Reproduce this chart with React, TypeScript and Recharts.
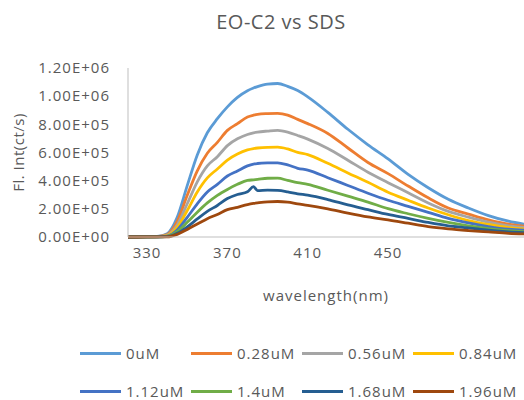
import { Legend, Line, LineChart, XAxis, YAxis } from "recharts";

// emission spectra, wavelength in nm, intensity in ct/s
const wavelengths = [
  320, 330, 335, 340, 345, 350, 355, 360, 365, 370, 375, 380, 383, 385, 390, 395,
  400, 405, 410, 420, 430, 440, 450, 460, 470, 480, 490, 500, 510, 518,
];

const sds0 = [
  0, 1000, 4000, 24000, 140000, 365000, 583000, 740000, 840000, 924000, 991000,
  1039000, 1058000, 1068000, 1086000, 1090000, 1070000, 1040000, 995000, 885000,
  765000, 655000, 555000, 445000, 350000, 268000, 206000, 152000, 112000, 90000,
];
const sds028 = [
  0, 1000, 3000, 18000, 110000, 296000, 470000, 595000, 672000, 757000, 805000,
  852000, 865000, 871000, 876000, 878000, 866000, 835000, 805000, 735000, 632000,
  529000, 450000, 362000, 278000, 206000, 163000, 122000, 91000, 77000,
];
const sds056 = [
  0, 1000, 2000, 14000, 86000, 236000, 392000, 505000, 570000, 649000, 697000,
  728000, 740000, 745000, 752000, 757000, 745000, 721000, 695000, 628000, 545000,
  460000, 386000, 314000, 242000, 182000, 141000, 105000, 79000, 67000,
];
const sds084 = [
  0, 500, 1500, 10000, 68000, 188000, 320000, 420000, 483000, 546000, 589000,
  618000, 628000, 632000, 637000, 638000, 625000, 601000, 585000, 523000, 455000,
  388000, 318000, 261000, 206000, 158000, 117000, 89000, 67000, 57000,
];
const sds112 = [
  0, 500, 1000, 7000, 50000, 140000, 236000, 320000, 374000, 433000, 469000,
  505000, 518000, 522000, 526000, 527000, 512000, 488000, 475000, 421000, 366000,
  311000, 261000, 218000, 175000, 132000, 100000, 74000, 55000, 48000,
];
const sds14 = [
  0, 500, 1000, 5000, 38000, 104000, 176000, 242000, 296000, 338000, 374000,
  402000, 406000, 409000, 417000, 418000, 402000, 386000, 374000, 332000, 290000,
  248000, 201000, 165000, 132000, 103000, 79000, 60000, 45000, 38000,
];
const sds168 = [
  0, 300, 800, 2000, 26000, 72000, 128000, 182000, 224000, 273000, 302000,
  321000, 357000, 330000, 333000, 331000, 321000, 307000, 297000, 266000, 228000,
  194000, 160000, 132000, 103000, 79000, 65000, 48000, 36000, 31000,
];
const sds196 = [
  0, 300, 600, 1000, 19000, 54000, 92000, 130000, 160000, 194000, 211000,
  230000, 238000, 242000, 250000, 252000, 247000, 235000, 225000, 200000, 170000,
  143000, 122000, 98000, 74000, 58000, 46000, 36000, 26000, 22000,
];

const xTicks = [330, 370, 410, 450];
const yTicks = [0, 200000, 400000, 600000, 800000, 1000000, 1200000];

const series = [
  { key: "c0", name: "0uM", color: "#5B9BD5", values: sds0 },
  { key: "c028", name: "0.28uM", color: "#ED7D31", values: sds028 },
  { key: "c056", name: "0.56uM", color: "#A5A5A5", values: sds056 },
  { key: "c084", name: "0.84uM", color: "#FFC000", values: sds084 },
  { key: "c112", name: "1.12uM", color: "#4472C4", values: sds112 },
  { key: "c14", name: "1.4uM", color: "#70AD47", values: sds14 },
  { key: "c168", name: "1.68uM", color: "#255E91", values: sds168 },
  { key: "c196", name: "1.96uM", color: "#9E480E", values: sds196 },
];

const rows = wavelengths.map((nm, i) => {
  const row: Record<string, number> = { nm };
  series.forEach((s) => {
    row[s.key] = s.values[i];
  });
  return row;
});

const FONT = "'Open Sans', sans-serif";
const GREY = "#595959";
const AXIS = "#BFBFBF";

// 1.20E+06 style labels
function sci(v: number) {
  const [m, e] = v.toExponential(2).split("e");
  return `${m}E${e[0]}${e.slice(1).padStart(2, "0")}`;
}

function LegendGrid() {
  return (
    <div style={{ height: 70, width: 524, paddingTop: 4, boxSizing: "border-box" }}>
      {[0, 1].map((r) => (
        <div key={r} style={{ display: "flex", height: 38, alignItems: "center", paddingLeft: 80 }}>
          {series.slice(r * 4, r * 4 + 4).map((s) => (
            <div key={s.key} style={{ width: 111, display: "flex", alignItems: "center" }}>
              <span style={{ width: 41, height: 3, background: s.color, marginRight: 5 }} />
              <span style={{ fontFamily: FONT, fontSize: 15, letterSpacing: 1, color: GREY }}>
                {s.name}
              </span>
            </div>
          ))}
        </div>
      ))}
    </div>
  );
}

export default function App() {
  return (
    <div style={{ position: "absolute", left: 0, top: 0, width: 524, height: 400, background: "#fff" }}>
      <div
        style={{
          position: "absolute",
          left: 281,
          top: 8,
          transform: "translateX(-50%)",
          fontFamily: FONT,
          fontSize: 20,
          color: GREY,
          whiteSpace: "nowrap",
          letterSpacing: 0.5,
        }}
      >
        EO-C2 vs SDS
      </div>
      <LineChart width={524} height={400} data={rows} margin={{ top: 68, right: 0, bottom: 0, left: 0 }}>
        <XAxis
          type="number"
          dataKey="nm"
          domain={[320.5, 517.7]}
          allowDataOverflow
          ticks={xTicks}
          height={93}
          tickLine={false}
          tickSize={0}
          tickMargin={10}
          stroke={AXIS}
          tick={{ fill: GREY, fontSize: 15, fontFamily: FONT, letterSpacing: 1 }}
          label={{
            value: "wavelength(nm)",
            position: "insideBottom",
            offset: 29,
            fill: GREY,
            fontSize: 15,
            fontFamily: FONT,
            letterSpacing: 1,
          }}
        />
        <YAxis
          type="number"
          domain={[0, 1200000]}
          ticks={yTicks}
          width={128}
          tickLine={false}
          tickSize={0}
          tickMargin={18}
          stroke={AXIS}
          tickFormatter={sci}
          tick={{ fill: GREY, fontSize: 15, fontFamily: FONT, letterSpacing: 1 }}
          label={{
            value: "Fl. Int(ct/s)",
            angle: -90,
            position: "insideLeft",
            offset: 19,
            fill: GREY,
            fontSize: 15,
            fontFamily: FONT,
            letterSpacing: 0.5,
            style: { textAnchor: "middle" },
          }}
        />
        <Legend verticalAlign="bottom" content={LegendGrid} wrapperStyle={{ left: 0, width: 524 }} />
        {series.map((s) => (
          <Line
            key={s.key}
            type="monotone"
            dataKey={s.key}
            name={s.name}
            stroke={s.color}
            strokeWidth={2.8}
            dot={false}
            activeDot={false}
            isAnimationActive={false}
          />
        ))}
      </LineChart>
    </div>
  );
}
